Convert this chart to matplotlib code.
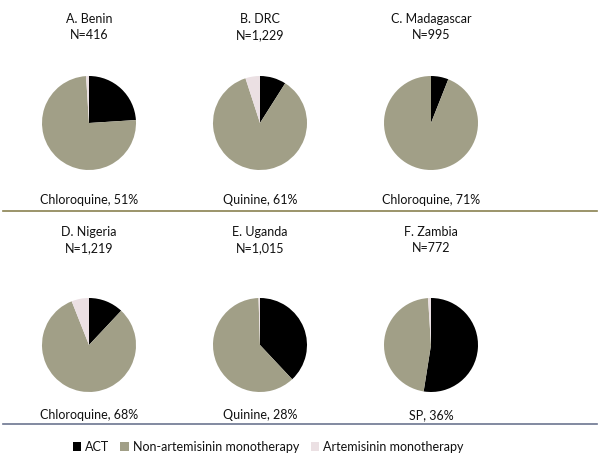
import matplotlib.pyplot as plt
from matplotlib.lines import Line2D
from matplotlib.patches import Patch

plt.rcParams['font.family'] = ['Lato', 'DejaVu Sans']

# data: shares (%) clockwise from 12 o'clock
countries = ['A. Benin', 'B. DRC', 'C. Madagascar', 'D. Nigeria', 'E. Uganda', 'F. Zambia']
sizes = ['N=416', 'N=1,229', 'N=995', 'N=1,219', 'N=1,015', 'N=772']
act = [24, 9, 6, 12, 38, 52.5]
non_art = [75, 86, 94, 82, 61.5, 46.5]
art = [1, 5, 0, 6, 0.5, 1]
main_drug = ['Chloroquine, 51%', 'Quinine, 61%', 'Chloroquine, 71%',
             'Chloroquine, 68%', 'Quinine, 28%', 'SP, 36%']
categories = ['ACT', 'Non-artemisinin monotherapy', 'Artemisinin monotherapy']
colors = ['#000000', '#a19f87', '#ebe0e3']

W, H = 600, 466
fig = plt.figure(figsize=(W / 100, H / 100), dpi=100)

col_x = [89, 260, 431]
row_y = [123, 345]        # pie centres (px from top)
title_y = [27, 240]
label_y = [200, 415]
line_y = [211, 424]
line_col = ['#8a8150', '#6c7590']
r = 47
fs = 9

for i in range(6):
    row, col = divmod(i, 3)
    cx, cy = col_x[col], row_y[row]
    ax = fig.add_axes([(cx - r) / W, 1 - (cy + r) / H, 2 * r / W, 2 * r / H])
    ax.pie([act[i], non_art[i], art[i]], colors=colors, startangle=90,
           counterclock=False, radius=1)
    ax.set_xlim(-1, 1)
    ax.set_ylim(-1, 1)
    ax.set_aspect('equal')
    fig.text(cx / W, 1 - title_y[row] / H, countries[i] + '\n' + sizes[i],
             ha='center', va='center', fontsize=fs, linespacing=1.45, color='#111111')
    fig.text(cx / W, 1 - label_y[row] / H, main_drug[i],
             ha='center', va='center', fontsize=fs, color='#111111')

for k in range(2):
    fig.add_artist(Line2D([3 / W, 597 / W], [1 - line_y[k] / H] * 2,
                          color=line_col[k], lw=1.2))

handles = [Patch(facecolor=c, edgecolor='none') for c in colors]
fig.legend(handles, categories, loc='center', bbox_to_anchor=(268 / W, 1 - 447 / H),
           ncol=3, frameon=False, fontsize=fs, handlelength=0.7, handleheight=0.7,
           handletextpad=0.3, columnspacing=0.9, labelcolor='#111111')

fig.savefig('out.png', dpi=100)
